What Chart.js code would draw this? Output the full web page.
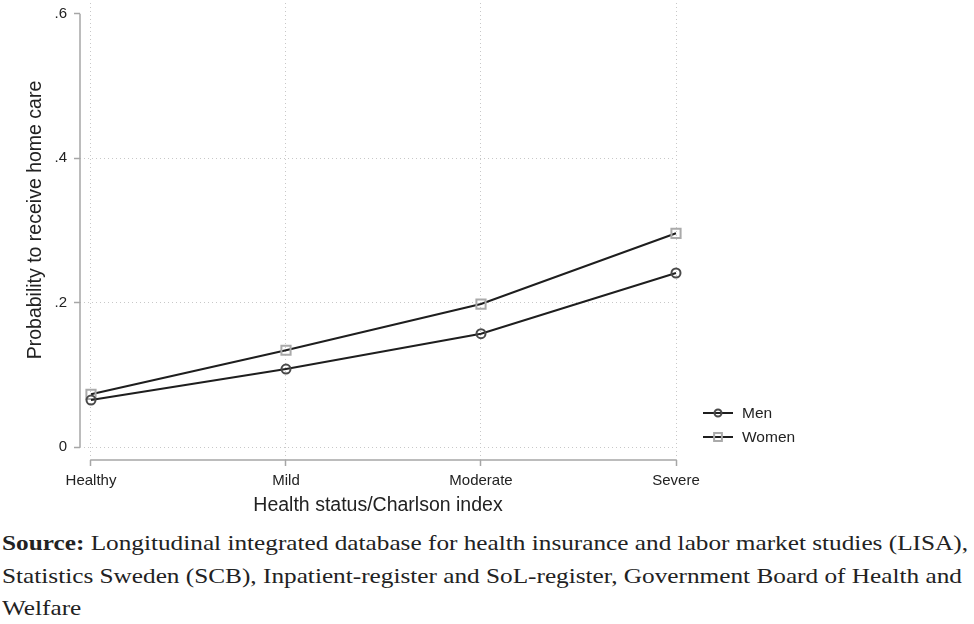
<!DOCTYPE html>
<html>
<head>
<meta charset="utf-8">
<script src="https://cdn.jsdelivr.net/npm/chart.js@4"></script>
<style>
  body { margin: 0; background: #fff; width: 974px; height: 624px; overflow: hidden; position: relative; }
  #wrap { position: absolute; left: 0; top: 0; width: 974px; height: 520px; }
  #src { position: absolute; left: 2px; top: 527px; font-family: "Liberation Serif", serif; font-size: 22px; line-height: 32.5px; color: #222; white-space: nowrap; transform-origin: 0 0; }
  #src b { font-weight: bold; }
  #src span { display: inline-block; }
</style>
</head>
<body>
<div id="wrap"><canvas id="chart"></canvas></div>
<div id="src">
  <div><span id="first"><b>Source:</b> Longitudinal integrated database for health insurance and labor market studies (LISA),</span></div>
  <div>Statistics Sweden (SCB), Inpatient-register and SoL-register, Government Board of Health and</div>
  <div>Welfare</div>
</div>
<script>
const categories = ['Healthy', 'Mild', 'Moderate', 'Severe'];
const men = [0.065, 0.108, 0.157, 0.241];
const women = [0.073, 0.134, 0.198, 0.296];
const yTicks = [0, 0.2, 0.4, 0.6];
const yTickLabels = ['0', '.2', '.4', '.6'];
const yTitle = 'Probability to receive home care';
const xTitle = 'Health status/Charlson index';

const axisGray = '#a6a6a6';
const font = 'Liberation Sans';

// the source note is set in a wider serif in the original, stretch to the same width
const src = document.getElementById('src');
const w = document.getElementById('first').getBoundingClientRect().width;
src.style.transform = 'scaleX(' + (966 / w) + ')';

// stata style axes: lines only span the labelled range, y title, plus a small legend at right
const stataBits = {
  id: 'stataBits',
  afterDraw(chart) {
    const ctx = chart.ctx;
    const x = chart.scales.x, y = chart.scales.y;
    const area = chart.chartArea;
    ctx.save();
    ctx.strokeStyle = axisGray;
    ctx.lineWidth = 1.5;
    ctx.beginPath();
    ctx.moveTo(area.left, y.getPixelForValue(yTicks[0]));
    ctx.lineTo(area.left, y.getPixelForValue(yTicks[yTicks.length - 1]));
    ctx.moveTo(x.getPixelForValue(0), area.bottom);
    ctx.lineTo(x.getPixelForValue(categories.length - 1), area.bottom);
    ctx.stroke();

    ctx.save();
    ctx.translate(36, 220);
    ctx.rotate(-Math.PI / 2);
    ctx.fillStyle = '#222';
    ctx.font = '19.5px ' + font;
    ctx.textAlign = 'center';
    ctx.textBaseline = 'middle';
    ctx.fillText(yTitle, 0, 0);
    ctx.restore();

    chart.data.datasets.forEach((ds, i) => {
      const ly = 413 + i * 24;
      ctx.strokeStyle = ds.borderColor;
      ctx.lineWidth = 2;
      ctx.beginPath();
      ctx.moveTo(703, ly);
      ctx.lineTo(733, ly);
      ctx.stroke();
      ctx.strokeStyle = ds.pointBorderColor;
      ctx.fillStyle = 'rgba(0,0,0,0)';
      ctx.lineWidth = ds.pointBorderWidth;
      Chart.helpers.drawPoint(ctx, {pointStyle: ds.pointStyle, radius: ds.pointRadius - 1, rotation: 0, borderWidth: ds.pointBorderWidth}, 718, ly);
      ctx.fillStyle = '#222';
      ctx.font = '15.5px ' + font;
      ctx.textBaseline = 'middle';
      ctx.fillText(ds.label, 742, ly + 1);
    });
    ctx.restore();
  }
};

new Chart(document.getElementById('chart'), {
  type: 'line',
  data: {
    datasets: [{
      label: 'Men',
      data: men.map((v, i) => ({x: i, y: v})),
      borderColor: '#1e1e1e',
      borderWidth: 2,
      pointStyle: 'circle',
      pointRadius: 4.5,
      pointBorderColor: '#4a4a4a',
      pointBorderWidth: 2,
      pointBackgroundColor: 'rgba(0,0,0,0)',
      clip: false
    }, {
      label: 'Women',
      data: women.map((v, i) => ({x: i, y: v})),
      borderColor: '#1e1e1e',
      borderWidth: 2,
      pointStyle: 'rect',
      pointRadius: 6.5,
      pointBorderColor: '#aaa',
      pointBorderWidth: 2,
      pointBackgroundColor: 'rgba(0,0,0,0)',
      clip: false
    }]
  },
  options: {
    responsive: true,
    maintainAspectRatio: false,
    animation: false,
    layout: { autoPadding: false, padding: { left: 0, right: 298, top: 3, bottom: 3 } },
    plugins: { legend: { display: false }, tooltip: { enabled: false } },
    scales: {
      x: {
        type: 'linear',
        min: -0.0564,
        max: 3,
        afterBuildTicks: s => { s.ticks = categories.map((c, i) => ({value: i})); },
        afterFit: s => { s.height = 57; s.paddingLeft = 0; s.paddingRight = 0; },
        ticks: {
          callback: v => categories[v],
          color: '#222',
          font: { family: font, size: 15 },
          padding: 6,
          maxRotation: 0
        },
        grid: { color: '#c8c8c8', lineWidth: 1, tickColor: axisGray, tickLength: 6, tickWidth: 1.5 },
        border: { display: false, dash: [1, 3] },
        title: { display: true, text: xTitle, color: '#222', font: { family: font, size: 19.5 }, padding: { top: 0, bottom: 0 } }
      },
      y: {
        min: -0.018,
        max: 0.615,
        afterBuildTicks: s => { s.ticks = yTicks.map(v => ({value: v})); },
        afterFit: s => { s.width = 80; s.paddingTop = 0; s.paddingBottom = 0; },
        ticks: {
          callback: v => yTickLabels[yTicks.indexOf(v)],
          color: '#222',
          font: { family: font, size: 15 },
          padding: 7
        },
        grid: {
          color: c => (c.tick && c.tick.value === 0.6) ? 'rgba(0,0,0,0)' : '#c8c8c8',
          lineWidth: 1, tickColor: axisGray, tickLength: 6, tickWidth: 1.5
        },
        border: { display: false, dash: [1, 3] }
      }
    }
  },
  plugins: [stataBits]
});
</script>
</body>
</html>
